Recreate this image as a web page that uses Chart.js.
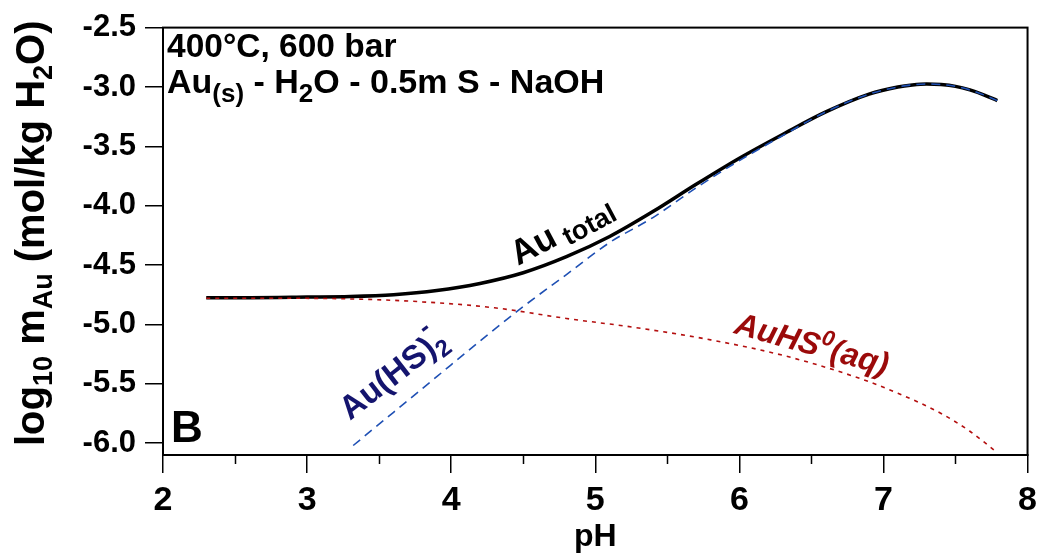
<!DOCTYPE html>
<html>
<head>
<meta charset="utf-8">
<script src="https://cdn.jsdelivr.net/npm/chart.js@4/dist/chart.umd.min.js"></script>
<style>
html,body{margin:0;padding:0;background:#fff;}
#wrap{width:1044px;height:560px;position:relative;}
</style>
</head>
<body>
<div id="wrap"><canvas id="c" width="1044" height="560"></canvas></div>
<script>
// ---- data ----
const pHTotal  = [2.3, 2.6, 3.0, 3.3, 3.6, 3.9, 4.2, 4.5, 4.8, 5.1, 5.4, 5.7, 6.0, 6.3, 6.6, 6.9, 7.1, 7.2, 7.3, 7.4, 7.5, 7.6, 7.7, 7.79];
const logTotal = [-4.775, -4.775, -4.77, -4.765, -4.75, -4.715, -4.655, -4.565, -4.43, -4.26, -4.05, -3.82, -3.60, -3.40, -3.21, -3.06, -3.00, -2.983, -2.975, -2.98, -2.995, -3.025, -3.068, -3.115];

const pHAuHS2  = [3.32, 3.6, 3.9, 4.2, 4.5, 4.8, 5.1, 5.4, 5.7, 6.0, 6.3, 6.6, 6.9, 7.1, 7.2, 7.3, 7.4, 7.5, 7.6, 7.7, 7.79];
const logAuHS2 = [-6.02, -5.74, -5.44, -5.14, -4.85, -4.58, -4.31, -4.10, -3.85, -3.62, -3.41, -3.21, -3.06, -3.00, -2.983, -2.975, -2.98, -2.995, -3.025, -3.068, -3.115];

const pHAuHS   = [2.3, 2.8, 3.3, 3.8, 4.3, 4.8, 5.3, 5.8, 6.3, 6.8, 7.1, 7.4, 7.6, 7.78];
const logAuHS  = [-4.78, -4.78, -4.785, -4.81, -4.86, -4.95, -5.03, -5.13, -5.26, -5.44, -5.58, -5.75, -5.90, -6.07];

const xTickLabels  = [2, 3, 4, 5, 6, 7, 8];
const xMinorTicks  = [2.5, 3.5, 4.5, 5.5, 6.5, 7.5];
const yTickLabels  = [-6.0, -5.5, -5.0, -4.5, -4.0, -3.5, -3.0, -2.5];

const FONT = '"Liberation Sans", Arial, sans-serif';

function pts(xs, ys){ return xs.map((x,i)=>({x:x, y:ys[i]})); }

function drawRich(ctx, x, y, angle, parts, color){
  ctx.save();
  ctx.translate(x, y);
  ctx.rotate(angle*Math.PI/180);
  ctx.fillStyle = color;
  ctx.textAlign = 'left';
  ctx.textBaseline = 'alphabetic';
  let cx = 0;
  for (const p of parts){
    ctx.font = (p.italic ? 'italic ' : '') + 'bold ' + p.size + 'px ' + FONT;
    ctx.fillText(p.t, cx + (p.dx||0), p.dy||0);
    if (!p.noAdvance) cx += ctx.measureText(p.t).width;
  }
  ctx.restore();
}

const decor = {
  id: 'decor',
  afterDatasetsDraw(chart){
    const ctx = chart.ctx;
    const a = chart.chartArea;
    const xs = chart.scales.x;
    // frame
    ctx.save();
    ctx.strokeStyle = '#000';
    ctx.lineWidth = 2;
    ctx.strokeRect(a.left, a.top, a.right - a.left, a.bottom - a.top);
    // minor x ticks
    ctx.lineWidth = 1.5;
    ctx.beginPath();
    for (const v of xMinorTicks){
      const px = Math.round(xs.getPixelForValue(v)) + 0.5;
      ctx.moveTo(px, a.bottom);
      ctx.lineTo(px, a.bottom + 9);
    }
    ctx.stroke();
    ctx.restore();

    // in-plot header
    drawRich(ctx, 167, 57, 0, [{t:'400°C, 600 bar', size:33.5}], '#000');
    drawRich(ctx, 167, 93, 0, [
      {t:'Au', size:34}, {t:'(s)', size:26, dy:9},
      {t:' - H', size:34}, {t:'2', size:26, dy:9},
      {t:'O - 0.5m S - NaOH', size:34}
    ], '#000');
    // panel letter
    drawRich(ctx, 171, 442, 0, [{t:'B', size:44}], '#000');

    // curve labels
    drawRich(ctx, 518, 266, -28, [
      {t:'Au', size:35}, {t:' ', size:26}, {t:'total', size:27, dy:6}
    ], '#000');
    drawRich(ctx, 350, 421, -38, [
      {t:'Au(HS)', size:33}, {t:'2', size:24, dy:8, noAdvance:true}, {t:'-', size:26, dy:-20}
    ], '#14146e');
    drawRich(ctx, 733, 333, 15.5, [
      {t:'AuHS', size:32, italic:true}, {t:'0', size:22, dy:-13, italic:true}, {t:'(aq)', size:32, italic:true}
    ], '#9b0a0a');

    // y axis title
    drawRich(ctx, 44, 446, -90, [
      {t:'log', size:40}, {t:'10', size:27, dy:8},
      {t:' m', size:40}, {t:'Au', size:27, dy:8},
      {t:' (mol/kg H', size:40}, {t:'2', size:27, dy:8},
      {t:'O)', size:40}
    ], '#000');
  }
};

new Chart(document.getElementById('c'), {
  type: 'line',
  data: {
    datasets: [
      {
        label: 'Au total',
        data: pts(pHTotal, logTotal),
        borderColor: '#000',
        borderWidth: 3.5,
        pointRadius: 0,
        cubicInterpolationMode: 'monotone',
        order: 3
      },
      {
        label: 'AuHS0(aq)',
        data: pts(pHAuHS, logAuHS),
        borderColor: '#b40f0f',
        borderWidth: 1.6,
        borderDash: [4, 5],
        pointRadius: 0,
        cubicInterpolationMode: 'monotone',
        order: 2
      },
      {
        label: 'Au(HS)2-',
        data: pts(pHAuHS2, logAuHS2),
        borderColor: '#1f50b4',
        borderWidth: 1.6,
        borderDash: [9, 6],
        pointRadius: 0,
        cubicInterpolationMode: 'monotone',
        order: 1
      }
    ]
  },
  options: {
    responsive: false,
    devicePixelRatio: 1,
    animation: false,
    layout: { padding: { left: 0, top: 22, right: 16, bottom: 0 } },
    plugins: { legend: { display: false }, tooltip: { enabled: false } },
    scales: {
      x: {
        type: 'linear',
        min: 2, max: 8,
        afterBuildTicks: s => { s.ticks = xTickLabels.map(v => ({value: v})); },
        afterFit: s => { s.height = 105; },
        grid: { drawOnChartArea: false, drawTicks: true, tickLength: 18, color: '#000', lineWidth: 1.5 },
        border: { display: true, color: '#000', width: 2 },
        ticks: {
          color: '#000',
          font: { family: FONT, size: 34, weight: 'bold' },
          padding: 7,
          maxRotation: 0,
          autoSkip: false,
          callback: v => String(v)
        },
        title: {
          display: true,
          text: 'pH',
          color: '#000',
          font: { family: FONT, size: 32, weight: 'bold' },
          padding: { top: 0, bottom: 4 }
        }
      },
      y: {
        type: 'linear',
        min: -6.1, max: -2.5,
        afterBuildTicks: s => { s.ticks = yTickLabels.map(v => ({value: v})); },
        afterFit: s => { s.width = 163; },
        grid: { drawOnChartArea: false, drawTicks: true, tickLength: 18, color: '#000', lineWidth: 1.5 },
        border: { display: true, color: '#000', width: 2 },
        ticks: {
          color: '#000',
          font: { family: FONT, size: 31, weight: 'bold' },
          padding: 9,
          autoSkip: false,
          callback: v => Number(v).toFixed(1)
        }
      }
    }
  },
  plugins: [decor]
});
</script>
</body>
</html>
